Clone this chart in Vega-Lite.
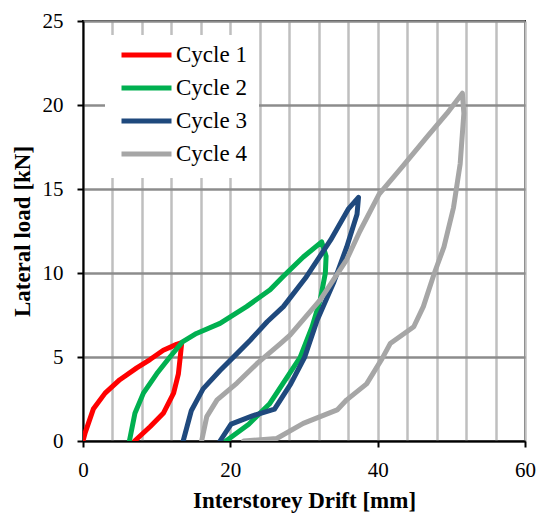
{
  "$schema": "https://vega.github.io/schema/vega-lite/v6.json",
  "width": 442,
  "height": 420,
  "autosize": "none",
  "padding": {"left": 83, "top": 21, "right": 13, "bottom": 76},
  "background": "white",
  "config": {
    "font": "Liberation Serif",
    "view": {"stroke": "black", "strokeWidth": 2},
    "axis": {
      "labelFont": "Liberation Serif",
      "titleFont": "Liberation Serif",
      "labelColor": "black",
      "titleColor": "black",
      "domainColor": "black",
      "domainWidth": 2,
      "tickColor": "black",
      "tickWidth": 2,
      "tickSize": 6,
      "labelFontSize": 21,
      "titleFontSize": 23,
      "titleFontWeight": "bold"
    }
  },
  "data": {
    "values": [
      {"cycle": "Cycle 1", "order": 1, "drift": 0, "load": 0},
      {"cycle": "Cycle 1", "order": 2, "drift": 0.3, "load": 0.5},
      {"cycle": "Cycle 1", "order": 3, "drift": 1.4, "load": 1.9},
      {"cycle": "Cycle 1", "order": 4, "drift": 3.0, "load": 2.85},
      {"cycle": "Cycle 1", "order": 5, "drift": 5.0, "load": 3.65},
      {"cycle": "Cycle 1", "order": 6, "drift": 7.3, "load": 4.35},
      {"cycle": "Cycle 1", "order": 7, "drift": 9.1, "load": 4.85},
      {"cycle": "Cycle 1", "order": 8, "drift": 10.9, "load": 5.4},
      {"cycle": "Cycle 1", "order": 9, "drift": 12.7, "load": 5.75},
      {"cycle": "Cycle 1", "order": 10, "drift": 13.4, "load": 5.85},
      {"cycle": "Cycle 1", "order": 11, "drift": 13.2, "load": 5.0},
      {"cycle": "Cycle 1", "order": 12, "drift": 12.95, "load": 4.0},
      {"cycle": "Cycle 1", "order": 13, "drift": 12.3, "load": 2.85},
      {"cycle": "Cycle 1", "order": 14, "drift": 10.9, "load": 1.65},
      {"cycle": "Cycle 1", "order": 15, "drift": 9.1, "load": 0.85},
      {"cycle": "Cycle 1", "order": 16, "drift": 7.0, "load": 0},

      {"cycle": "Cycle 2", "order": 1, "drift": 6.3, "load": 0},
      {"cycle": "Cycle 2", "order": 2, "drift": 7.05, "load": 1.65},
      {"cycle": "Cycle 2", "order": 3, "drift": 8.2, "load": 2.85},
      {"cycle": "Cycle 2", "order": 4, "drift": 10.0, "load": 4.0},
      {"cycle": "Cycle 2", "order": 5, "drift": 11.8, "load": 5.0},
      {"cycle": "Cycle 2", "order": 6, "drift": 13.5, "load": 5.9},
      {"cycle": "Cycle 2", "order": 7, "drift": 15.4, "load": 6.4},
      {"cycle": "Cycle 2", "order": 8, "drift": 18.6, "load": 7.0},
      {"cycle": "Cycle 2", "order": 9, "drift": 22.2, "load": 8.0},
      {"cycle": "Cycle 2", "order": 10, "drift": 25.4, "load": 9.0},
      {"cycle": "Cycle 2", "order": 11, "drift": 27.2, "load": 9.8},
      {"cycle": "Cycle 2", "order": 12, "drift": 29.9, "load": 10.95},
      {"cycle": "Cycle 2", "order": 13, "drift": 32.4, "load": 11.85},
      {"cycle": "Cycle 2", "order": 14, "drift": 33.0, "load": 11.0},
      {"cycle": "Cycle 2", "order": 15, "drift": 32.9, "load": 10.0},
      {"cycle": "Cycle 2", "order": 16, "drift": 32.2, "load": 8.4},
      {"cycle": "Cycle 2", "order": 17, "drift": 31.1, "load": 6.8},
      {"cycle": "Cycle 2", "order": 18, "drift": 29.5, "load": 5.0},
      {"cycle": "Cycle 2", "order": 19, "drift": 27.4, "load": 3.6},
      {"cycle": "Cycle 2", "order": 20, "drift": 25.3, "load": 2.2},
      {"cycle": "Cycle 2", "order": 21, "drift": 22.5, "load": 1.0},
      {"cycle": "Cycle 2", "order": 22, "drift": 19.4, "load": 0},

      {"cycle": "Cycle 3", "order": 1, "drift": 13.6, "load": 0},
      {"cycle": "Cycle 3", "order": 2, "drift": 14.7, "load": 1.8},
      {"cycle": "Cycle 3", "order": 3, "drift": 16.3, "load": 3.1},
      {"cycle": "Cycle 3", "order": 4, "drift": 18.6, "load": 4.2},
      {"cycle": "Cycle 3", "order": 5, "drift": 20.9, "load": 5.2},
      {"cycle": "Cycle 3", "order": 6, "drift": 22.7, "load": 6.0},
      {"cycle": "Cycle 3", "order": 7, "drift": 25.0, "load": 7.1},
      {"cycle": "Cycle 3", "order": 8, "drift": 27.2, "load": 8.0},
      {"cycle": "Cycle 3", "order": 9, "drift": 30.2, "load": 9.7},
      {"cycle": "Cycle 3", "order": 10, "drift": 33.6, "load": 11.95},
      {"cycle": "Cycle 3", "order": 11, "drift": 36.0, "load": 13.8},
      {"cycle": "Cycle 3", "order": 12, "drift": 37.4, "load": 14.5},
      {"cycle": "Cycle 3", "order": 13, "drift": 37.2, "load": 13.5},
      {"cycle": "Cycle 3", "order": 14, "drift": 35.8, "load": 11.55},
      {"cycle": "Cycle 3", "order": 15, "drift": 34.0, "load": 9.4},
      {"cycle": "Cycle 3", "order": 16, "drift": 31.8, "load": 7.2},
      {"cycle": "Cycle 3", "order": 17, "drift": 30.1, "load": 5.0},
      {"cycle": "Cycle 3", "order": 18, "drift": 28.2, "load": 3.4},
      {"cycle": "Cycle 3", "order": 19, "drift": 26.0, "load": 1.9},
      {"cycle": "Cycle 3", "order": 20, "drift": 23.0, "load": 1.5},
      {"cycle": "Cycle 3", "order": 21, "drift": 20.1, "load": 1.0},
      {"cycle": "Cycle 3", "order": 22, "drift": 18.6, "load": 0},

      {"cycle": "Cycle 4", "order": 1, "drift": 16.1, "load": 0},
      {"cycle": "Cycle 4", "order": 2, "drift": 16.8, "load": 1.45},
      {"cycle": "Cycle 4", "order": 3, "drift": 18.2, "load": 2.45},
      {"cycle": "Cycle 4", "order": 4, "drift": 20.9, "load": 3.45},
      {"cycle": "Cycle 4", "order": 5, "drift": 23.6, "load": 4.6},
      {"cycle": "Cycle 4", "order": 6, "drift": 26.8, "load": 5.8},
      {"cycle": "Cycle 4", "order": 7, "drift": 28.1, "load": 6.3},
      {"cycle": "Cycle 4", "order": 8, "drift": 32.2, "load": 8.4},
      {"cycle": "Cycle 4", "order": 9, "drift": 35.8, "load": 10.8},
      {"cycle": "Cycle 4", "order": 10, "drift": 37.6, "load": 12.5},
      {"cycle": "Cycle 4", "order": 11, "drift": 40.2, "load": 14.7},
      {"cycle": "Cycle 4", "order": 12, "drift": 43.5, "load": 16.4},
      {"cycle": "Cycle 4", "order": 13, "drift": 46.7, "load": 18.1},
      {"cycle": "Cycle 4", "order": 14, "drift": 49.4, "load": 19.5},
      {"cycle": "Cycle 4", "order": 15, "drift": 51.5, "load": 20.7},
      {"cycle": "Cycle 4", "order": 16, "drift": 51.7, "load": 19.5},
      {"cycle": "Cycle 4", "order": 17, "drift": 51.2, "load": 16.5},
      {"cycle": "Cycle 4", "order": 18, "drift": 50.3, "load": 13.9},
      {"cycle": "Cycle 4", "order": 19, "drift": 49.0, "load": 11.55},
      {"cycle": "Cycle 4", "order": 20, "drift": 47.7, "load": 10.0},
      {"cycle": "Cycle 4", "order": 21, "drift": 46.2, "load": 8.0},
      {"cycle": "Cycle 4", "order": 22, "drift": 44.9, "load": 6.8},
      {"cycle": "Cycle 4", "order": 23, "drift": 41.7, "load": 5.8},
      {"cycle": "Cycle 4", "order": 24, "drift": 40.6, "load": 4.9},
      {"cycle": "Cycle 4", "order": 25, "drift": 38.5, "load": 3.4},
      {"cycle": "Cycle 4", "order": 26, "drift": 35.8, "load": 2.45},
      {"cycle": "Cycle 4", "order": 27, "drift": 34.5, "load": 1.85},
      {"cycle": "Cycle 4", "order": 28, "drift": 29.9, "load": 1.05},
      {"cycle": "Cycle 4", "order": 29, "drift": 26.3, "load": 0.15},
      {"cycle": "Cycle 4", "order": 30, "drift": 21.8, "load": 0}
    ]
  },
  "mark": {"type": "line", "strokeWidth": 5, "strokeCap": "round", "strokeJoin": "round", "clip": true},
  "encoding": {
    "x": {
      "field": "drift",
      "type": "quantitative",
      "scale": {"domain": [0, 60], "nice": false},
      "axis": {
        "title": "Interstorey Drift [mm]",
        "values": [0, 4, 8, 12, 16, 20, 24, 28, 32, 36, 40, 44, 48, 52, 56, 60],
        "labelExpr": "datum.value % 20 === 0 ? datum.label : ''",
        "tickColor": {"condition": {"test": "datum.value % 20 === 0", "value": "black"}, "value": "transparent"},
        "grid": true,
        "gridColor": "#bfbfbf",
        "gridWidth": 2.5,
        "labelPadding": 12,
        "titlePadding": 9,
        "labelFlush": false
      }
    },
    "y": {
      "field": "load",
      "type": "quantitative",
      "scale": {"domain": [0, 25], "nice": false},
      "axis": {
        "title": "Lateral load [kN]",
        "values": [0, 5, 10, 15, 20, 25],
        "grid": true,
        "gridColor": "#8c8c8c",
        "gridWidth": 2.5,
        "labelPadding": 14,
        "titlePadding": 8,
        "labelFlush": false
      }
    },
    "color": {
      "field": "cycle",
      "type": "nominal",
      "scale": {
        "domain": ["Cycle 1", "Cycle 2", "Cycle 3", "Cycle 4"],
        "range": ["#ff0000", "#00b050", "#1f497d", "#a6a6a6"]
      },
      "legend": {
        "title": null,
        "orient": "none",
        "legendX": 22,
        "legendY": 14,
        "fillColor": "white",
        "padding": 12,
        "symbolType": "stroke",
        "symbolSize": 2500,
        "symbolStrokeWidth": 5,
        "symbolOffset": 2,
        "clipHeight": 16,
        "rowPadding": 10,
        "labelFont": "Liberation Serif",
        "labelFontSize": 23,
        "labelColor": "black",
        "labelOffset": 2
      }
    },
    "order": {"field": "order", "type": "quantitative"}
  }
}
